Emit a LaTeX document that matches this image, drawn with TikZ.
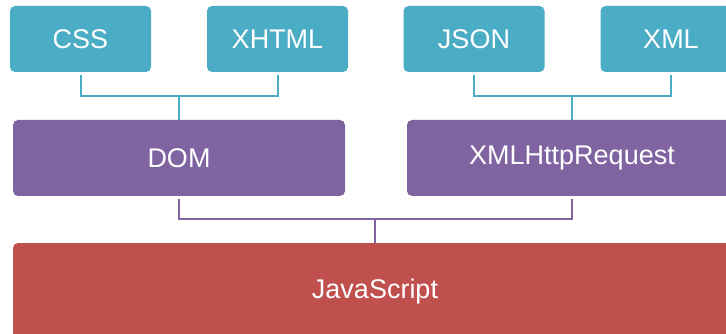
\documentclass[tikz,border=0pt]{standalone}
\usepackage{fontspec}
\setmainfont{Liberation Sans}
\definecolor{teal}{HTML}{4BACC6}
\definecolor{purp}{HTML}{8064A2}
\definecolor{redb}{HTML}{C0504D}
\tikzset{
  box/.style={rectangle, rounded corners=5pt, inner sep=0pt, text=white,
    font=\fontsize{27}{30}\selectfont},
  tealbox/.style={box, fill=teal, minimum width=141pt, minimum height=66pt},
  purpbox/.style={box, fill=purp, minimum height=76pt},
  redbox/.style={box, fill=redb, minimum height=98pt},
  tealline/.style={draw=teal, line width=2pt},
  purpline/.style={draw=purp, line width=2pt}
}
\begin{document}
\begin{tikzpicture}[x=1pt,y=-1pt]
\useasboundingbox (0,0) rectangle (726,334);
\clip (0,0) rectangle (726,334);
\fill[white] (0,0) rectangle (726,334);
\node[tealbox] (css) at (80.5,39) {CSS};
\node[tealbox] (xhtml) at (277.5,39) {XHTML};
\node[tealbox] (json) at (474,39) {JSON};
\node[tealbox] (xml) at (671,39) {XML};
\node[purpbox, minimum width=332pt] (dom) at (179,158) {DOM};
\node[purpbox, minimum width=330pt] (xhr) at (572,158) {XMLHttpRequest};
\node[redbox, minimum width=724pt] (js) at (375,292) {JavaScript};
\coordinate (j1) at (179,96);
\coordinate (j2) at (572,96);
\coordinate (j3) at (375,219);
\draw[tealline] ([yshift=-3pt]css.south) |- (j1) -| ([yshift=-3pt]xhtml.south);
\draw[tealline] (j1) -- (dom.north);
\draw[tealline] ([yshift=-3pt]json.south) |- (j2) -| ([yshift=-3pt]xml.south);
\draw[tealline] (j2) -- (xhr.north);
\draw[purpline] ([yshift=-3pt]dom.south) |- (j3) -| ([yshift=-3pt]xhr.south);
\draw[purpline] (j3) -- (js.north);
\end{tikzpicture}
\end{document}
